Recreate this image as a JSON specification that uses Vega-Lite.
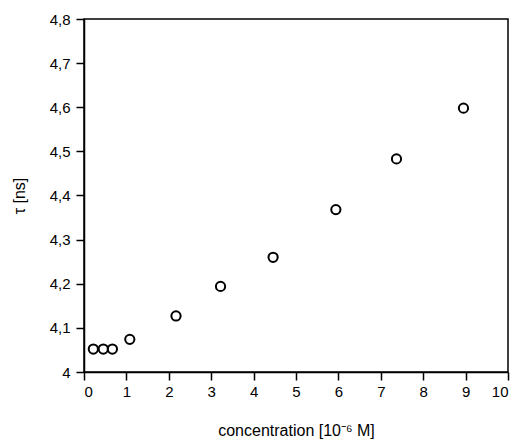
{
  "$schema": "https://vega.github.io/schema/vega-lite/v6.json",
  "autosize": "none",
  "width": 424,
  "height": 353,
  "padding": {"left": 84, "top": 19, "right": 8, "bottom": 69},
  "background": "white",
  "data": {
    "values": [
      {"c": 0.22, "tau": 4.052},
      {"c": 0.455, "tau": 4.052},
      {"c": 0.67, "tau": 4.052},
      {"c": 1.08, "tau": 4.074},
      {"c": 2.17, "tau": 4.127},
      {"c": 3.22, "tau": 4.194},
      {"c": 4.46, "tau": 4.26},
      {"c": 5.94, "tau": 4.368},
      {"c": 7.37, "tau": 4.483},
      {"c": 8.95, "tau": 4.598}
    ]
  },
  "mark": {"type": "point", "shape": "circle", "filled": false, "stroke": "black", "strokeWidth": 2, "size": 85, "opacity": 1},
  "encoding": {
    "x": {
      "field": "c", "type": "quantitative",
      "scale": {"domain": [0, 10], "nice": false, "zero": false},
      "axis": {
        "values": [0,1,2,3,4,5,6,7,8,9,10],
        "title": "concentration [10⁻⁶ M]",
        "titlePadding": 23,
        "labelPadding": 4
      }
    },
    "y": {
      "field": "tau", "type": "quantitative",
      "scale": {"domain": [4, 4.8], "nice": false, "zero": false},
      "axis": {
        "values": [4, 4.1, 4.2, 4.3, 4.4, 4.5, 4.6, 4.7, 4.8],
        "labelExpr": "replace(format(datum.value, '.1~f'), '.', ',')",
        "title": "τ [ns]",
        "titlePadding": 22,
        "labelPadding": 6
      }
    }
  },
  "config": {
    "view": {"stroke": "black", "strokeWidth": 1.5},
    "axis": {
      "grid": false,
      "domainColor": "black",
      "domainWidth": 1.5,
      "tickColor": "black",
      "tickWidth": 1.5,
      "tickSize": 8,
      "labelFont": "Liberation Sans",
      "labelFontSize": 15,
      "labelColor": "black",
      "titleFont": "Liberation Sans",
      "titleFontSize": 16,
      "titleFontWeight": "normal",
      "titleColor": "black"
    }
  }
}
